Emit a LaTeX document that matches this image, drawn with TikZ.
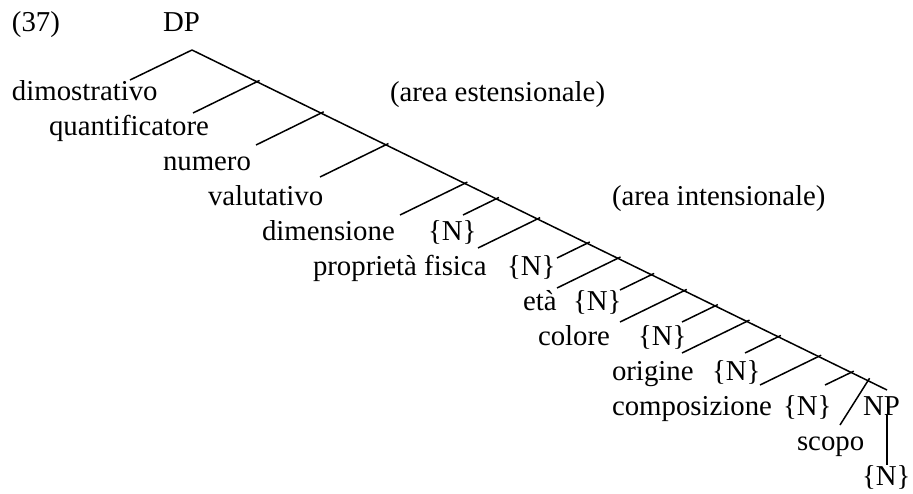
\documentclass[tikz,border=0pt]{standalone}
\usepackage{fontspec}
\setmainfont{Liberation Serif}
\usetikzlibrary{calc}
\begin{document}
\begin{tikzpicture}[x=1pt,y=-1pt,
  lbl/.style={anchor=base west,inner sep=0pt,outer sep=0pt,font=\fontsize{28.8}{30}\selectfont},
  edge/.style={line width=1.5pt},
  br/.style={edge,shorten >=-3pt}]
\useasboundingbox (0,0) rectangle (913,493);
% texts
\node[lbl] (ex) at (12,31) {(37)};
\node[lbl] (dp) at (163,31) {DP};
\node[lbl] (dim) at (12,100) {dimostrativo};
\node[lbl] (aes) at (390,101) {(area estensionale)};
\node[lbl] (qua) at (49,135) {quantificatore};
\node[lbl] (num) at (163,170) {numero};
\node[lbl] (val) at (208,205) {valutativo};
\node[lbl] (ain) at (612,205) {(area intensionale)};
\node[lbl] (dms) at (262,240) {dimensione};
\node[lbl] (n1) at (428,240) {\{N\}};
\node[lbl] (pro) at (313,275) {proprietà fisica};
\node[lbl] (n2) at (507,275) {\{N\}};
\node[lbl] (eta) at (523,310) {età};
\node[lbl] (n3) at (573,310) {\{N\}};
\node[lbl] (col) at (538,345) {colore};
\node[lbl] (n4) at (638,345) {\{N\}};
\node[lbl] (ori) at (612,380) {origine};
\node[lbl] (n5) at (712,380) {\{N\}};
\node[lbl] (com) at (612,415) {composizione};
\node[lbl] (n6) at (783,415) {\{N\}};
\node[lbl] (np) at (863,415) {NP};
\node[lbl] (sco) at (797,450) {scopo};
\node[lbl] (n7) at (862,485) {\{N\}};
% spine
\coordinate (top) at (192,50);
\coordinate (bot) at (887,390);
\draw[edge] (top) -- (bot);
% junctions on spine
\foreach \n/\x in {j1/256.9,j2/321.0,j3/385.8,j4/464.7,j5/496.2,j6/537.4,j7/587.1,j8/617.8,j9/651.4,j10/684.1,j11/715.1,j12/746.8,j13/778.2,j14/818.5,j15/851.1,j16/868}
  \coordinate (\n) at ($(top)!{(\x-192)/695}!(bot)$);
% branch ends
\coordinate (e0) at (130,80);
\coordinate (e1) at (193,113);
\coordinate (e2) at (256,145);
\coordinate (e3) at (320,177);
\coordinate (e4) at (400,215);
\coordinate (e5) at (463,215);
\coordinate (e6) at (478,248);
\coordinate (e7) at (557,258);
\coordinate (e8) at (557,288);
\coordinate (e9) at (620,290);
\coordinate (e10) at (620,322);
\coordinate (e11) at (682,322);
\coordinate (e12) at (682,353);
\coordinate (e13) at (745,353);
\coordinate (e14) at (760,385);
\coordinate (e15) at (825,385);
\coordinate (e16) at (840,425);
\draw[edge] (e0) -- (top);
\foreach \k in {1,...,16}
  \draw[br] (e\k) -- (j\k);
% NP to {N}
\draw[edge] (bot |- np.south) ++(0,-1) -- (bot |- n7.north);
\end{tikzpicture}
\end{document}
